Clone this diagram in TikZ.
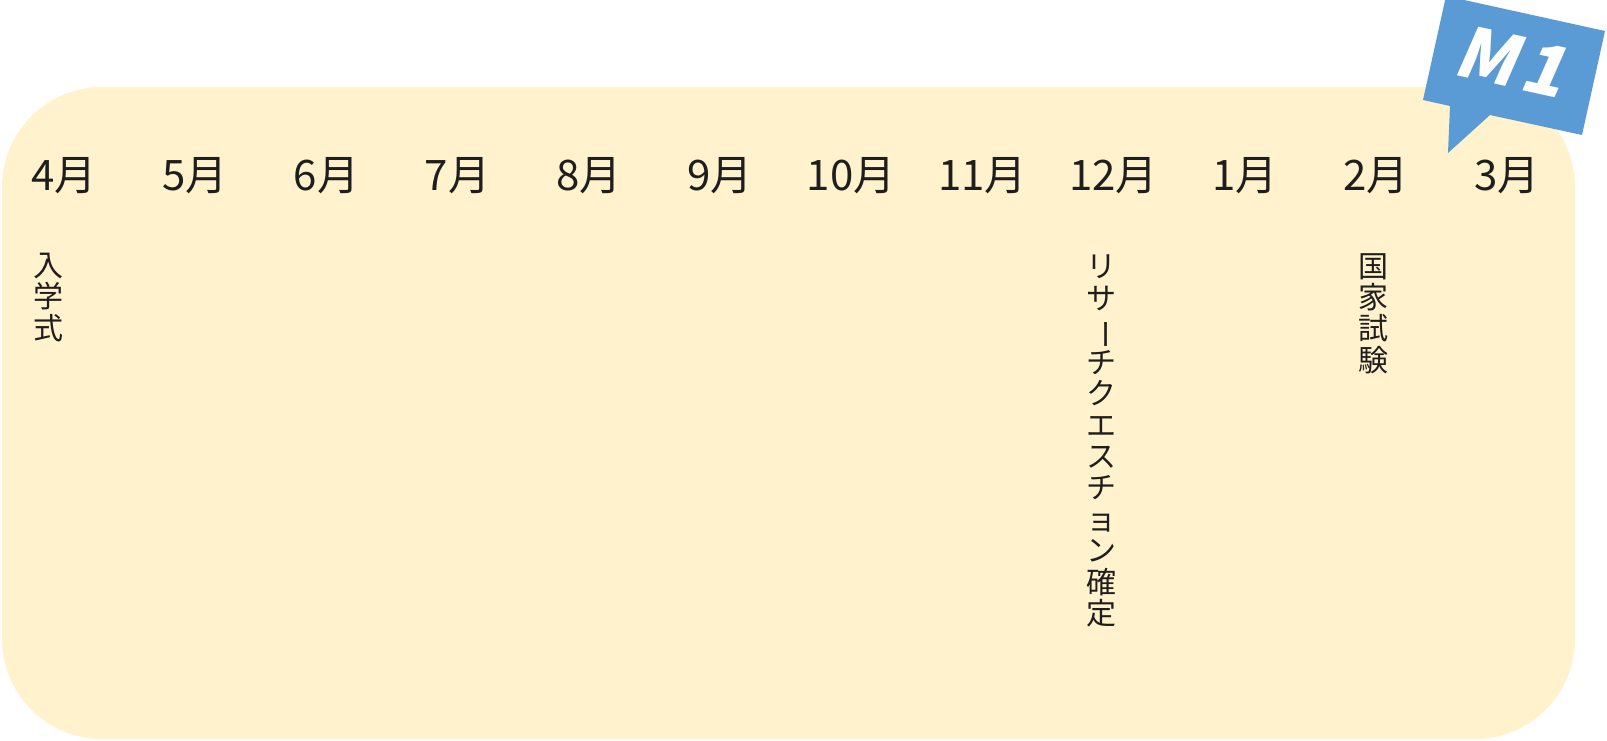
\documentclass[tikz,border=0pt]{standalone}
\usepackage{fontspec}
\usepackage{graphicx}
\setmainfont{Noto Sans CJK JP}
\newfontfamily\badgefont{Noto Sans CJK JP}[FakeSlant=0.2]
\definecolor{bgyellow}{HTML}{FFF2CC}
\definecolor{badgeblue}{HTML}{5B9BD5}
\definecolor{ink}{HTML}{1E1E1E}
\begin{document}
\begin{tikzpicture}[x=1pt,y=-1pt,
  month/.style={font=\fontsize{42}{44}\selectfont, inner sep=0pt, text=ink},
  vtext/.style={font=\fontsize{30}{31.4}\selectfont, align=center, inner sep=0pt, anchor=north, text=ink},
  badgetext/.style={font=\badgefont\bfseries\fontsize{70}{72}\selectfont, text=white, inner sep=0pt, rotate=-12.4}]
\useasboundingbox (0,0) rectangle (1607,740);
\begin{scope}
\clip (0,0) rectangle (1607,740);
\fill[bgyellow, rounded corners=100pt] (2,87) rectangle (1575,739);
\foreach \m [count=\i from 0] in {4,5,6,7,8,9,10,11,12,1,2,3}
  \node[month] (m\i) at ({64+131.2*\i},176) {\m 月};
\node[vtext] (nyu) at (49,253) {入\\学\\式};
\node[vtext] (rq) at (1101,255) {リ\\サ\\\rotatebox[origin=c]{-90}{ー}\\チ\\ク\\エ\\ス\\チ\\ョ\\ン\\確\\定};
\node[vtext] (kokka) at (1373,253) {国\\家\\試\\験};
\fill[badgeblue] (1446,-4) -- (1605,31) -- (1582,135) -- (1490,115) -- (1448,153) -- (1450,106) -- (1423,100) -- cycle;
\node[badgetext] (badge) at (1511,61) {M\kern6pt 1};
\end{scope}
\end{tikzpicture}
\end{document}
